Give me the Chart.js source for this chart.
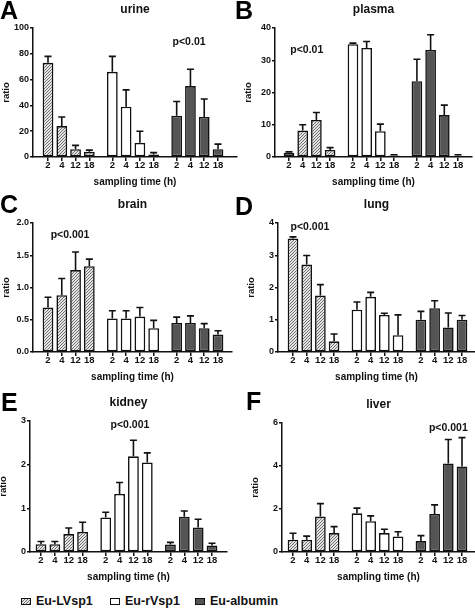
<!DOCTYPE html>
<html>
<head>
<meta charset="utf-8">
<script src="https://cdn.jsdelivr.net/npm/chart.js@4"></script>
<style>
  body { margin: 0; width: 475px; height: 608px; position: relative; overflow: hidden; background: #fff;
         font-family: 'Liberation Sans', Arial, sans-serif; color: #111; }
  canvas { position: absolute; }
  .letter { position: absolute; font-size: 25px; line-height: 25px; font-weight: bold; color: #000; z-index: 2; }
  .item { position: absolute; top: 594px; height: 14px; display: flex; align-items: center;
          font-size: 12.5px; font-weight: bold; }
  .sw { width: 10px; height: 7px; border: 1.5px solid #111; margin-right: 5px; box-sizing: border-box; }
</style>
</head>
<body>
<div class="letter" style="left:0px;top:-2px">A</div>
<div class="letter" style="left:235px;top:-2px">B</div>
<div class="letter" style="left:0px;top:192px">C</div>
<div class="letter" style="left:235px;top:194px">D</div>
<div class="letter" style="left:1px;top:390px">E</div>
<div class="letter" style="left:246px;top:389px">F</div>

<div class="item" style="left:21px"><span class="sw" id="sw0"></span>Eu-LVsp1</div>
<div class="item" style="left:110px"><span class="sw" id="sw1"></span>Eu-rVsp1</div>
<div class="item" style="left:195px"><span class="sw" id="sw2"></span>Eu-albumin</div>

<script>
const times = ['2', '4', '12', '18'];
const seriesNames = ['Eu-LVsp1', 'Eu-rVsp1', 'Eu-albumin'];

// A urine
const urineLV = [73, 24, 6, 4];
const urineLVErr = [5, 7, 3, 1.3];
const urineRV = [66, 39, 11, 2];
const urineRVErr = [12, 13, 9, 1.4];
const urineAlb = [32, 55, 31, 6];
const urineAlbErr = [11, 13, 14, 4];

// B plasma
const plasmaLV = [1.3, 8.2, 11.5, 2.2];
const plasmaLVErr = [0.3, 1.8, 2.3, 0.7];
const plasmaRV = [35, 33.8, 8, 0.5];
const plasmaRVErr = [0.3, 2, 2.2, 0.2];
const plasmaAlb = [23.5, 33.2, 13, 0.4];
const plasmaAlbErr = [6.8, 4.7, 3.1, 0.3];

// C brain
const brainLV = [0.69, 0.88, 1.27, 1.33];
const brainLVErr = [0.16, 0.26, 0.28, 0.11];
const brainRV = [0.52, 0.52, 0.55, 0.37];
const brainRVErr = [0.12, 0.12, 0.14, 0.12];
const brainAlb = [0.45, 0.45, 0.37, 0.27];
const brainAlbErr = [0.09, 0.11, 0.07, 0.06];

// D lung
const lungLV = [3.52, 2.71, 1.75, 0.33];
const lungLVErr = [0.05, 0.28, 0.34, 0.23];
const lungRV = [1.31, 1.71, 1.15, 0.52];
const lungRVErr = [0.24, 0.14, 0.05, 0.63];
const lungAlb = [1.0, 1.36, 0.76, 1.0];
const lungAlbErr = [0.26, 0.23, 0.45, 0.13];

// E kidney
const kidneyLV = [0.18, 0.18, 0.41, 0.46];
const kidneyLVErr = [0.06, 0.06, 0.14, 0.22];
const kidneyRV = [0.79, 1.33, 2.19, 2.05];
const kidneyRVErr = [0.12, 0.26, 0.37, 0.22];
const kidneyAlb = [0.17, 0.81, 0.56, 0.15];
const kidneyAlbErr = [0.05, 0.13, 0.19, 0.05];

// F liver
const liverLV = [0.57, 0.57, 1.65, 0.88];
const liverLVErr = [0.3, 0.17, 0.6, 0.3];
const liverRV = [1.8, 1.43, 0.88, 0.72];
const liverRVErr = [0.24, 0.25, 0.18, 0.22];
const liverAlb = [0.51, 1.77, 4.12, 3.98];
const liverAlbErr = [0.25, 0.42, 1.11, 1.34];

const FONT = "'Liberation Sans', Arial, sans-serif";
Chart.defaults.font.family = FONT;
Chart.defaults.font.weight = 'bold';
Chart.defaults.color = '#111';

// hatch fill for Eu-LVsp1
const tile = document.createElement('canvas');
tile.width = 3; tile.height = 3;
const tc = tile.getContext('2d');
tc.fillStyle = '#e4e4e4';
tc.fillRect(0, 0, 3, 3);
tc.fillStyle = '#707070';
for (let i = 0; i < 3; i++) tc.fillRect(i, 2 - i, 1, 1);
const hatch = tc.createPattern(tile, 'repeat');
const fills = [hatch, '#ffffff', '#555555'];

document.getElementById('sw0').style.background = 'url(' + tile.toDataURL() + ')';
document.getElementById('sw1').style.background = '#fff';
document.getElementById('sw2').style.background = '#555';

// layout
const YW = 32, TT = 28, XH = 31, PR = 2;
const GAP = 0.67;
const xOf = (g, i) => g * (times.length + GAP) + i;
const lastX = xOf(2, 3);
const tickPos = [];
for (let g = 0; g < 3; g++) times.forEach((t, i) => tickPos.push(xOf(g, i)));

const panels = [
  { title: 'urine', means: [urineLV, urineRV, urineAlb], errs: [urineLVErr, urineRVErr, urineAlbErr],
    yMax: 100, step: 20, fmt: v => v, p: { text: 'p<0.01', x: xOf(2, 0.9), y: 88.8 },
    box: { x0: 33, x1: 237, y0: 28, y1: 157, b0: 48, b1: 218 } },
  { title: 'plasma', means: [plasmaLV, plasmaRV, plasmaAlb], errs: [plasmaLVErr, plasmaRVErr, plasmaAlbErr],
    yMax: 40, step: 10, fmt: v => v, p: { text: 'p<0.01', x: xOf(0, 1.3), y: 33.2 },
    box: { x0: 275, x1: 472, y0: 28, y1: 157, b0: 289, b1: 458 } },
  { title: 'brain', means: [brainLV, brainRV, brainAlb], errs: [brainLVErr, brainRVErr, brainAlbErr],
    yMax: 2, step: 0.5, fmt: v => v.toFixed(1), p: { text: 'p<0.001', x: xOf(0, 1.6), y: 1.81 },
    box: { x0: 33, x1: 232, y0: 223, y1: 352, b0: 48, b1: 218 } },
  { title: 'lung', means: [lungLV, lungRV, lungAlb], errs: [lungLVErr, lungRVErr, lungAlbErr],
    yMax: 4, step: 1, fmt: v => v, p: { text: 'p<0.001', x: xOf(0, 1.24), y: 3.88 },
    box: { x0: 278, x1: 475, y0: 223, y1: 352, b0: 293, b1: 462 } },
  { title: 'kidney', means: [kidneyLV, kidneyRV, kidneyAlb], errs: [kidneyLVErr, kidneyRVErr, kidneyAlbErr],
    yMax: 3, step: 1, fmt: v => v, p: { text: 'p<0.001', x: xOf(1, 1.75), y: 2.91 },
    box: { x0: 30, x1: 227, y0: 421, y1: 552, b0: 41, b1: 212 } },
  { title: 'liver', means: [liverLV, liverRV, liverAlb], errs: [liverLVErr, liverRVErr, liverAlbErr],
    yMax: 6, step: 2, fmt: v => v, p: { text: 'p<0.001', x: xOf(2, 2.0), y: 5.77 },
    box: { x0: 282, x1: 475, y0: 423, y1: 552, b0: 293, b1: 462 } }
];

// one-sided error bars with cap
const errorBars = {
  id: 'errorBars',
  afterDatasetsDraw(chart) {
    const ctx = chart.ctx, y = chart.scales.y;
    ctx.save();
    ctx.strokeStyle = '#111';
    ctx.lineWidth = 1.6;
    chart.data.datasets.forEach((ds, di) => {
      chart.getDatasetMeta(di).data.forEach((bar, i) => {
        const top = y.getPixelForValue(ds.data[i].y + ds.errors[i]);
        ctx.beginPath();
        ctx.moveTo(bar.x, bar.y);
        ctx.lineTo(bar.x, top);
        ctx.moveTo(bar.x - 3.5, top);
        ctx.lineTo(bar.x + 3.5, top);
        ctx.stroke();
      });
    });
    ctx.restore();
  }
};

// significance label
const pLabel = {
  id: 'pLabel',
  afterDraw(chart, args, opts) {
    if (!opts.text) return;
    const ctx = chart.ctx;
    ctx.save();
    ctx.font = 'bold 10.5px ' + FONT;
    ctx.fillStyle = '#111';
    ctx.textAlign = 'center';
    ctx.textBaseline = 'middle';
    ctx.fillText(opts.text, chart.scales.x.getPixelForValue(opts.x), chart.scales.y.getPixelForValue(opts.y));
    ctx.restore();
  }
};

panels.forEach(p => {
  const b = p.box;
  const ppu = (b.b1 - b.b0) / lastX;
  const xMin = -(b.b0 - b.x0) / ppu;
  const xMax = lastX + (b.x1 - b.b1) / ppu;
  const left = b.x0 - YW, top = b.y0 - TT;

  const cv = document.createElement('canvas');
  cv.width = b.x1 - left + PR;
  cv.height = (b.y1 - b.y0) + TT + XH;
  cv.style.left = left + 'px';
  cv.style.top = top + 'px';
  document.body.appendChild(cv);

  new Chart(cv, {
    type: 'bar',
    data: {
      datasets: seriesNames.map((name, g) => ({
        label: name,
        data: p.means[g].map((v, i) => ({ x: xOf(g, i), y: v })),
        errors: p.errs[g],
        backgroundColor: fills[g],
        borderColor: '#111',
        borderWidth: 1.6,
        borderSkipped: false,
        grouped: false,
        barPercentage: 0.78,
        categoryPercentage: 1
      }))
    },
    options: {
      responsive: false,
      animation: false,
      layout: { padding: { left: 0, right: PR, top: 0, bottom: 0 } },
      plugins: {
        legend: { display: false },
        tooltip: { enabled: false },
        title: { display: true, text: p.title, fullSize: false, font: { size: 12 }, color: '#111',
                 padding: { top: 2.3, bottom: 11.3 } },
        pLabel: p.p
      },
      scales: {
        x: {
          type: 'linear', min: xMin, max: xMax, offset: false,
          afterBuildTicks: s => { s.ticks = tickPos.map(v => ({ value: v })); },
          afterFit: s => { s.height = XH; },
          ticks: { autoSkip: false, maxRotation: 0, padding: -1, font: { size: 9.5 },
                   callback: (v, i) => times[i % times.length] },
          grid: { offset: false, drawOnChartArea: false, tickLength: 4, color: '#111', lineWidth: 1.5 },
          border: { color: '#111', width: 1.5 },
          title: { display: true, text: 'sampling time (h)', font: { size: 10 }, padding: 0 }
        },
        y: {
          min: 0, max: p.yMax,
          afterFit: s => { s.width = YW; },
          ticks: { stepSize: p.step, padding: 1, font: { size: 9 }, callback: p.fmt },
          grid: { drawOnChartArea: false, tickLength: 3, color: '#111', lineWidth: 1.5 },
          border: { color: '#111', width: 1.5 },
          title: { display: true, text: 'ratio', font: { size: 9.5 }, padding: 0 }
        }
      }
    },
    plugins: [errorBars, pLabel]
  });
});
</script>
</body>
</html>
